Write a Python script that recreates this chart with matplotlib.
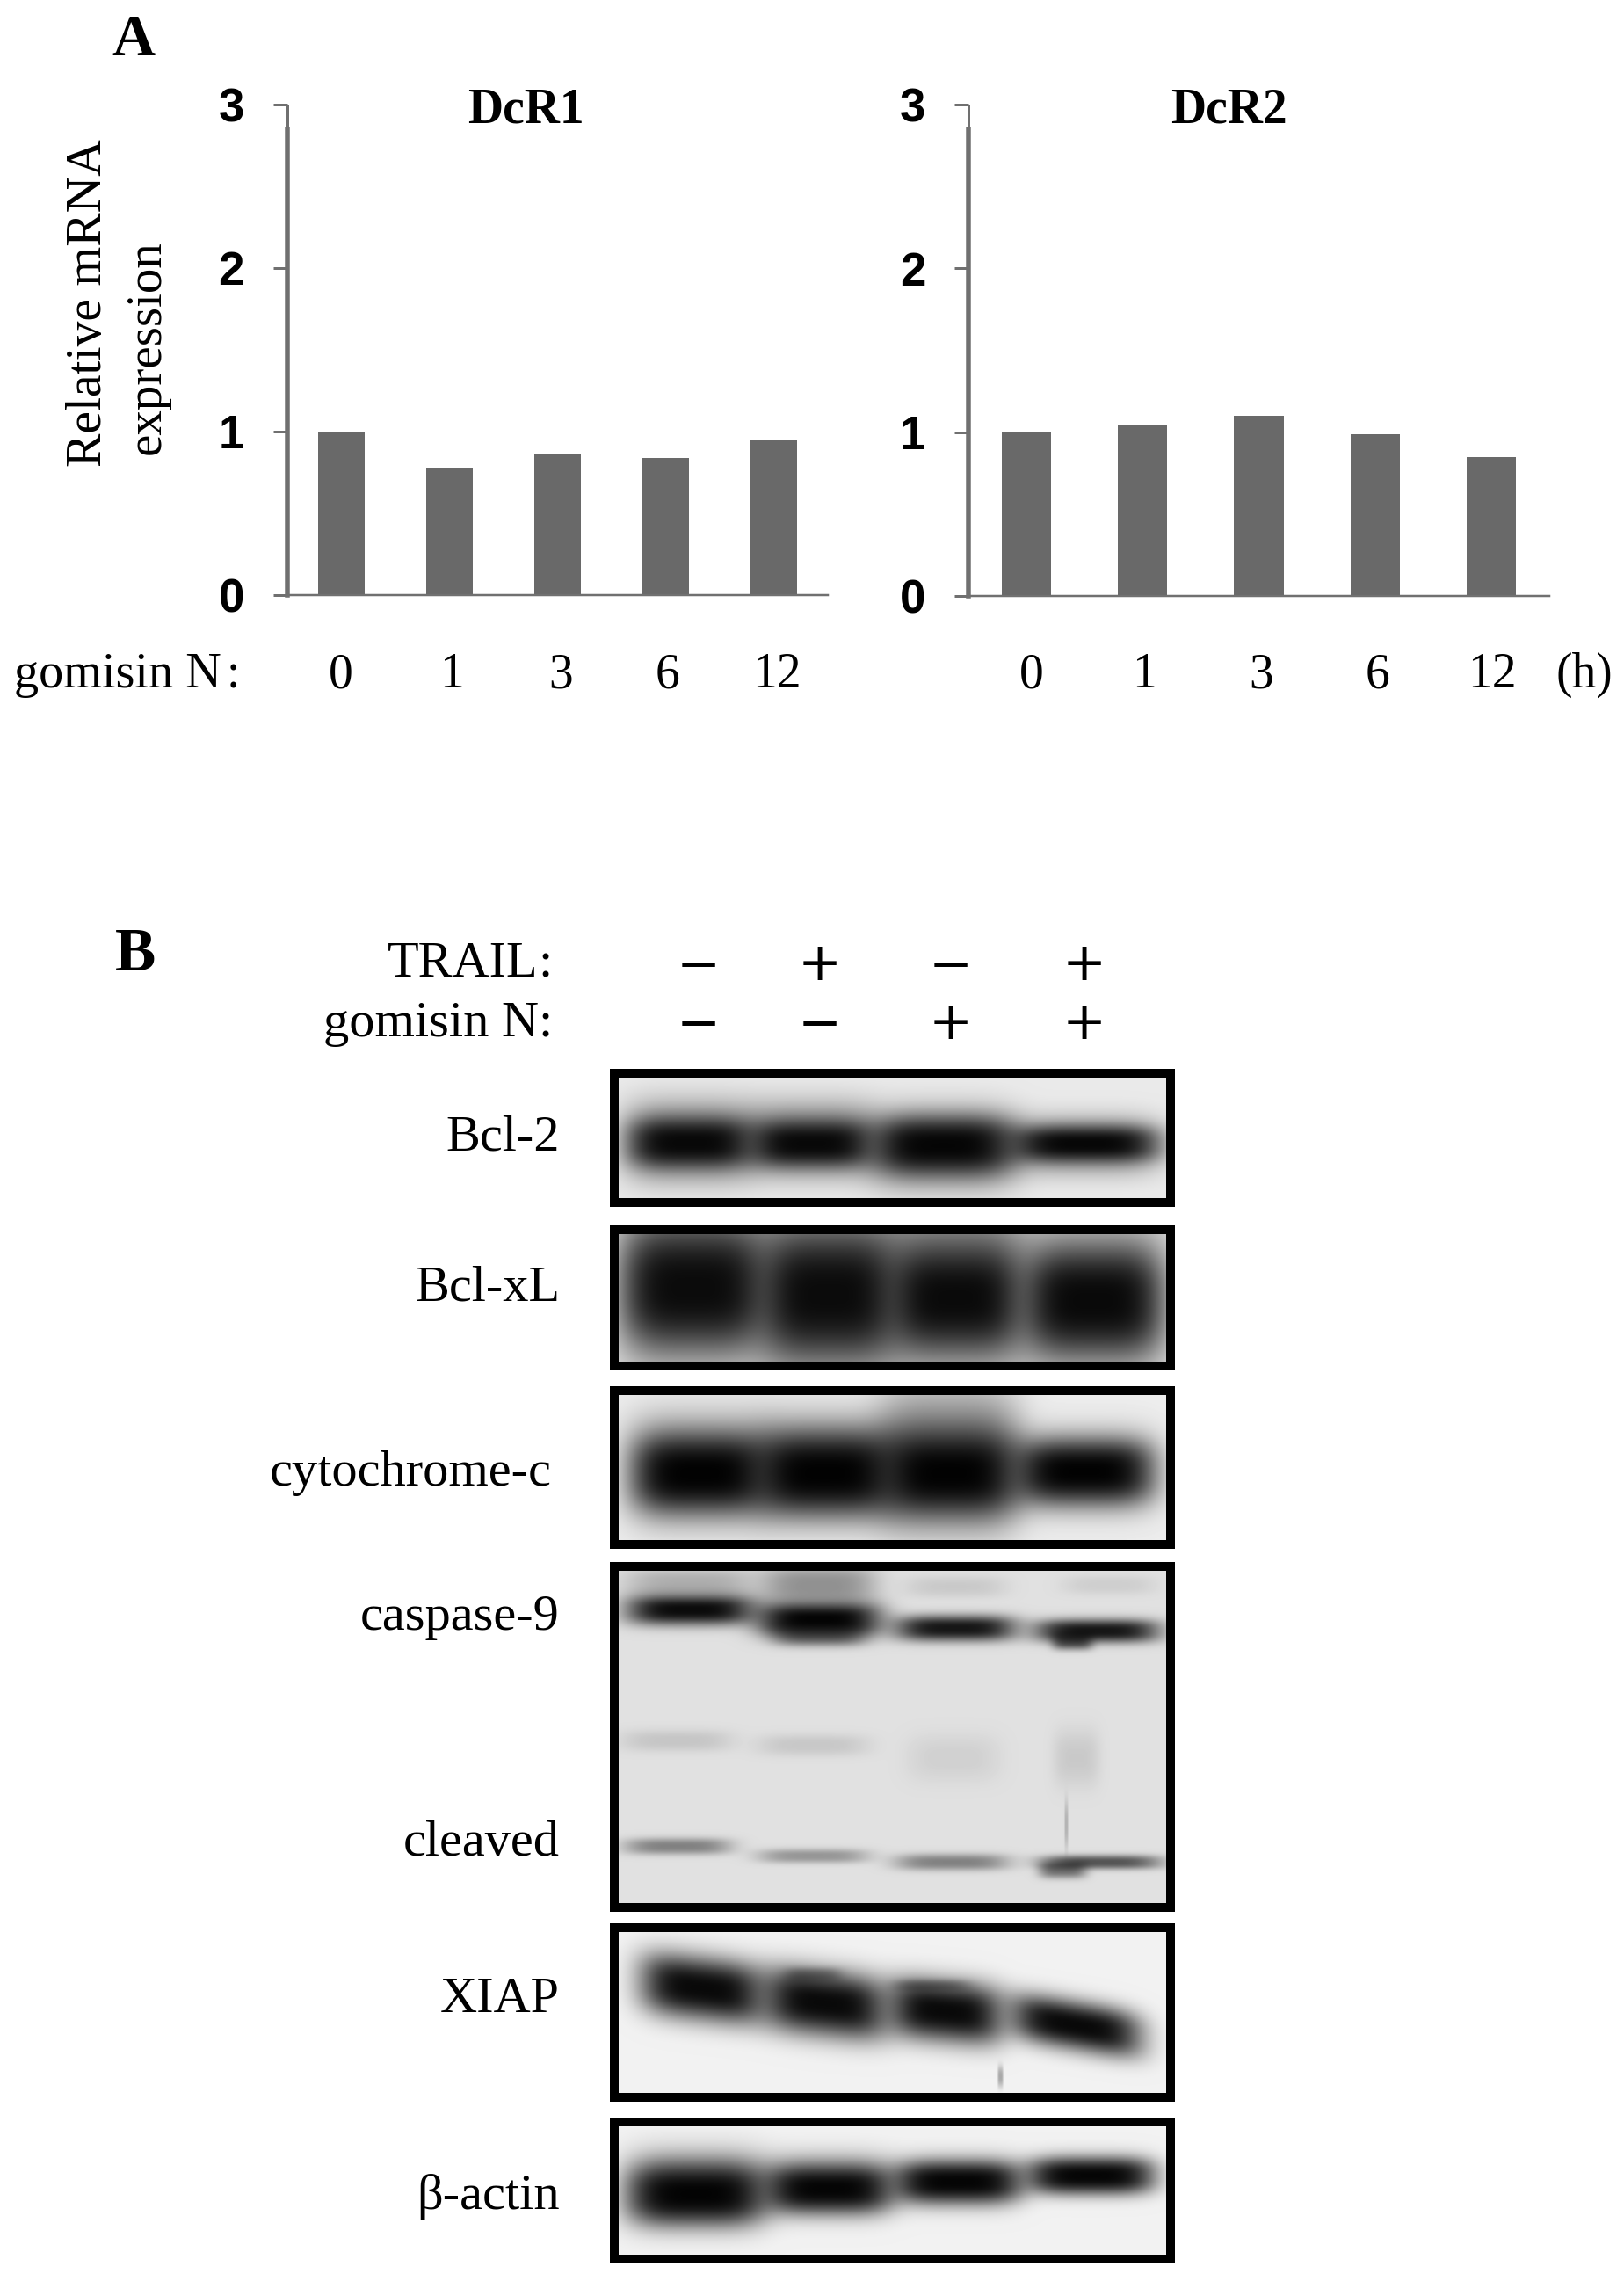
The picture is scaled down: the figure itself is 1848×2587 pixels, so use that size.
import numpy as np
import matplotlib
matplotlib.use("Agg")
import matplotlib.pyplot as plt
from matplotlib.patches import Rectangle

plt.rcParams["font.family"] = ["Liberation Serif", "DejaVu Serif"]

W, H = 1848, 2587
PX = 72 / 100  # points per pixel at dpi 100

# Panel A values
hours = ["0", "1", "3", "6", "12"]
dcr1_values = [1.0, 0.78, 0.86, 0.84, 0.945]
dcr2_values = [1.0, 1.04, 1.10, 0.99, 0.85]
y_ticks = [0, 1, 2, 3]

# Panel B treatment rows
trail_signs = ["\u2212", "+", "\u2212", "+"]
gomisin_signs = ["\u2212", "\u2212", "+", "+"]

# Blot bands, in page pixels: centre x, centre y, half width, half height, darkness, tilt
bcl2_bands = [
    (785, 1298, 72, 34, 0.5, 0.0), (923, 1296, 70, 32, 0.48, 0.0), (1073, 1306, 80, 34, 0.5, 0.0), (1235, 1303, 82, 25, 0.4, 0.0),
    (785, 1300, 66, 20, 0.93, 0.0), (923, 1301, 64, 19, 0.93, 0.0), (1073, 1303, 74, 23, 0.95, 0.0), (1235, 1301, 78, 15, 0.95, 0.0),
]
bclxl_bands = [
    (789, 1460, 82, 68, 0.6, 0.0), (943, 1470, 76, 72, 0.6, 0.0), (1087, 1465, 76, 72, 0.55, 0.0), (1244, 1478, 80, 60, 0.6, 0.0),
    (789, 1465, 74, 46, 0.88, 0.0), (943, 1473, 68, 48, 0.88, 0.0), (1087, 1477, 68, 42, 0.9, 0.0), (1244, 1480, 70, 40, 0.9, 0.0),
]
cytc_bands = [
    (796, 1672, 78, 44, 0.55, 0.0), (939, 1672, 76, 44, 0.55, 0.0), (1080, 1660, 76, 60, 0.5, 0.0), (1234, 1674, 78, 34, 0.45, 0.0),
    (796, 1676, 70, 30, 0.98, 0.0), (939, 1676, 72, 32, 0.98, 0.0), (1080, 1676, 72, 35, 0.98, 0.0), (1234, 1674, 72, 25, 0.98, 0.0),
]
casp9_bands = [
    (785, 1831, 70, 13, 0.95, 0.0), (932, 1842, 68, 15, 0.98, 0.0), (1087, 1852, 66, 11, 0.9, 0.0), (1248, 1855, 68, 10, 0.9, 0.0),
    (932, 1802, 62, 16, 0.35, 0.0), (785, 1800, 70, 12, 0.22, 0.0), (1087, 1805, 55, 9, 0.1, 0.0), (1262, 1803, 50, 8, 0.08, 0.0),
    (1220, 1867, 22, 7, 0.6, 0.0), (932, 1860, 50, 9, 0.5, 0.0),
    (770, 1980, 60, 9, 0.12, 0.0), (925, 1985, 60, 9, 0.11, 0.0), (1085, 2000, 50, 20, 0.07, 0.0), (1225, 2000, 25, 24, 0.1, 0.0),
    (771, 2100, 58, 7, 0.42, 0.0), (925, 2111, 60, 6, 0.33, 0.0), (1083, 2118, 62, 7, 0.42, 0.0), (1252, 2118, 66, 6, 0.62, 0.0),
    (1209, 2127, 26, 7, 0.5, 0.0), (1213, 2075, 2, 20, 0.2, 0.0),
]
xiap_bands = [
    (799, 2262, 68, 27, 0.96, 0.12), (939, 2279, 68, 28, 0.96, 0.11), (1076, 2288, 62, 26, 0.96, 0.09), (1224, 2304, 72, 21, 0.96, 0.17),
    (925, 2246, 30, 6, 0.3, 0.0), (1060, 2258, 40, 5, 0.3, 0.0),
    (1138, 2362, 3, 9, 0.3, 0.0),
]
actin_bands = [
    (792, 2490, 76, 32, 0.5, 0.0), (943, 2486, 70, 26, 0.45, 0.0), (1090, 2482, 68, 22, 0.45, 0.0), (1241, 2474, 68, 18, 0.4, 0.0),
    (792, 2496, 72, 24, 0.97, 0.0), (943, 2490, 66, 19, 0.96, 0.0), (1090, 2482, 66, 16, 0.96, 0.0), (1241, 2475, 66, 14, 0.96, 0.0),
]

# inner frame box (left, top, right, bottom), background grey, bands
blots = [
    ((703, 1225, 1327, 1363), 0.92, bcl2_bands),
    ((703, 1403, 1327, 1549), 0.9, bclxl_bands),
    ((703, 1586, 1327, 1752), 0.93, cytc_bands),
    ((703, 1786, 1327, 2165), 0.88, casp9_bands),
    ((703, 2197, 1327, 2381), 0.95, xiap_bands),
    ((703, 2418, 1327, 2565), 0.95, actin_bands),
]
blot_labels = ["Bcl-2", "Bcl-xL", "cytochrome-c", "caspase-9", "cleaved", "XIAP", "\u03b2-actin"]
blot_label_pos = [(637, 1308), (637, 1479), (628, 1690), (637, 1854), (637, 2111), (637, 2289), (637, 2513)]


def draw_blot(ax, box, background, bands):
    left, top, right, bottom = box
    xs, ys = np.meshgrid(np.arange(left, right), np.arange(top, bottom))
    keep = np.ones_like(xs, dtype=float)
    for cx, cy, hw, hh, dark, tilt in bands:
        dx = (xs - cx) / (hw * 1.05)
        dy = (ys - cy - tilt * (xs - cx)) / (hh * 1.35)
        keep *= 1 - dark * np.exp(-np.abs(dx) ** 4 - np.abs(dy) ** 2.6)
    ax.imshow(background * keep, cmap="gray", vmin=0, vmax=1, aspect="auto",
              extent=(left, right, bottom, top), interpolation="bilinear", zorder=1)
    ax.add_patch(Rectangle((left - 4.5, top - 4.5), right - left + 9, bottom - top + 9, fill=False,
                           edgecolor="black", linewidth=10 * PX, joinstyle="miter", zorder=2))


def draw_bars(box, values, bar_width, title, title_x):
    left, top, right, bottom = box
    ax = fig.add_axes([left / W, 1 - bottom / H, (right - left) / W, (bottom - top) / H], facecolor="none")
    ax.bar(range(len(values)), values, width=bar_width, color="#696969")
    ax.set_xlim(-0.5, 4.5)
    ax.set_ylim(0, 3)
    ax.set_xticks([])
    ax.set_yticks(y_ticks)
    ax.tick_params(axis="y", length=16 * PX, width=3 * PX, color="#707070", pad=33 * PX)
    for lab in ax.get_yticklabels():
        lab.set_fontfamily("Liberation Sans")
        lab.set_fontweight("bold")
        lab.set_fontsize(38)
        lab.set_verticalalignment("center_baseline")
    ax.spines["top"].set_visible(False)
    ax.spines["right"].set_visible(False)
    ax.spines["left"].set_color("#707070")
    ax.spines["left"].set_linewidth(5.5 * PX)
    ax.spines["left"].set_bounds(0, 2.85)
    ax.spines["bottom"].set_color("#707070")
    ax.spines["bottom"].set_linewidth(2.5 * PX)
    ax.vlines(-0.5, 2.85, 3, color="#707070", linewidth=3 * PX, clip_on=False)
    page.text(title_x, 139, title, fontsize=40, fontweight="bold", ha="center", va="baseline")
    return ax


fig = plt.figure(figsize=(W / 100, H / 100), dpi=100)
page = fig.add_axes([0, 0, 1, 1])
page.set_axis_off()

for box, background, bands in blots:
    draw_blot(page, box, background, bands)
page.set_xlim(0, W)
page.set_ylim(H, 0)

# Panel A
draw_bars((327, 119, 942, 677), dcr1_values, 0.43, "DcR1", 598)
draw_bars((1102, 119, 1763, 678), dcr2_values, 0.425, "DcR2", 1398)

page.text(152, 63, "A", fontsize=49, fontweight="bold", ha="center", va="baseline")
page.text(101, 345, "Relative mRNA", fontsize=41.5, rotation=90, ha="center", va="center")
page.text(168, 395, "expression", fontsize=41, rotation=90, ha="center", va="center")

page.text(16, 782, "gomisin N", fontsize=40.5, ha="left", va="baseline")
page.text(273, 782, ":", fontsize=40, ha="right", va="baseline")
for x, lab in zip([388, 514, 638, 759, 884], hours):
    page.text(x, 782, lab, fontsize=40, ha="center", va="baseline")
for x, lab in zip([1174, 1302, 1435, 1567, 1698], hours):
    page.text(x, 782, lab, fontsize=40, ha="center", va="baseline")
page.text(1803, 782, "(h)", fontsize=40, ha="center", va="baseline")

# Panel B
page.text(154, 1104, "B", fontsize=50, fontweight="bold", ha="center", va="baseline")
page.text(613, 1111, "TRAIL", fontsize=42, ha="right", va="baseline")
page.text(629, 1111, ":", fontsize=42, ha="right", va="baseline")
page.text(613, 1179, "gomisin N", fontsize=42, ha="right", va="baseline")
page.text(629, 1179, ":", fontsize=42, ha="right", va="baseline")
for x, top_sign, low_sign in zip([795, 933, 1082, 1234], trail_signs, gomisin_signs):
    page.text(x, 1092, top_sign, fontsize=43, family="DejaVu Sans", ha="center", va="center_baseline")
    page.text(x, 1159, low_sign, fontsize=43, family="DejaVu Sans", ha="center", va="center_baseline")

for (x, y), lab in zip(blot_label_pos, blot_labels):
    page.text(x, y, lab, fontsize=42, ha="right", va="baseline")

fig.savefig("out.png", dpi=100)
